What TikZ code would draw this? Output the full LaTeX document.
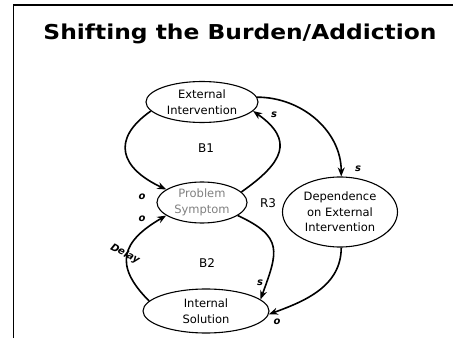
\documentclass[tikz,border=0pt]{standalone}
\usepackage{fontspec}
\setmainfont{DejaVu Sans}
\newfontfamily\titlefont[FakeStretch=1.14]{DejaVu Sans}
\usetikzlibrary{shapes.geometric,arrows.meta}
\begin{document}
\begin{tikzpicture}[x=1pt,y=1pt,
  var/.style={draw,ellipse,line width=1.1pt,inner sep=0pt,align=center,font=\fontsize{11.5}{15.5}\selectfont},
  link/.style={line width=1.6pt,-{Stealth[length=9pt,width=7pt]}},
  pol/.style={font=\bfseries\itshape\fontsize{10}{10}\selectfont},
  loopname/.style={font=\fontsize{12}{12}\selectfont}]
\useasboundingbox (0,0) rectangle (453,338);
\draw[line width=1.5pt] (13.5,0) -- (13.5,333) -- (453,333);
\node[anchor=base] (title) at (240,298) {\titlefont\bfseries\fontsize{20.5}{24}\selectfont Shifting the Burden/Addiction};
\node[var,minimum width=112pt,minimum height=41pt] (EI) at (202,236) {External\\Intervention};
\node[var,minimum width=90pt,minimum height=41pt,text=gray] (PS) at (202,135.5) {Problem\\Symptom};
\node[var,minimum width=126pt,minimum height=44pt] (IS) at (206,27) {Internal\\Solution};
\node[var,minimum width=115pt,minimum height=70pt] (DEI) at (340,126) {Dependence\\on External\\Intervention};
\node[loopname] (B1) at (206,190) {B1};
\node[loopname] (B2) at (207,75) {B2};
\node[loopname] (R3) at (268,135) {R3};
\node[pol] (sEI) at (274,223) {s};
\node[pol] (oPSa) at (142,141) {o};
\node[pol] (oPSb) at (142,119) {o};
\node[pol] (sIS) at (260,55) {s};
\node[pol] (oIS) at (277,16) {o};
\node[pol] (sDEI) at (358,169) {s};
\node[pol,rotate=-28] (delay) at (125,84) {Delay};
\draw[link] (EI.190) to[out=215,in=155,looseness=1.6] (PS.160);
\draw[link] (PS.15) to[out=35,in=-35,looseness=1.6] (EI.-10);
\draw[link] (PS.-20) to[out=-25,in=70,looseness=1.5] (IS.12);
\draw[link] (IS.170) to[out=135,in=-150,looseness=1.5] (PS.-160);
\draw[link] (EI.5) to[out=0,in=90] (DEI.88);
\draw[link] (DEI.-88) to[out=-90,in=20] (IS.-3);
\end{tikzpicture}
\end{document}
